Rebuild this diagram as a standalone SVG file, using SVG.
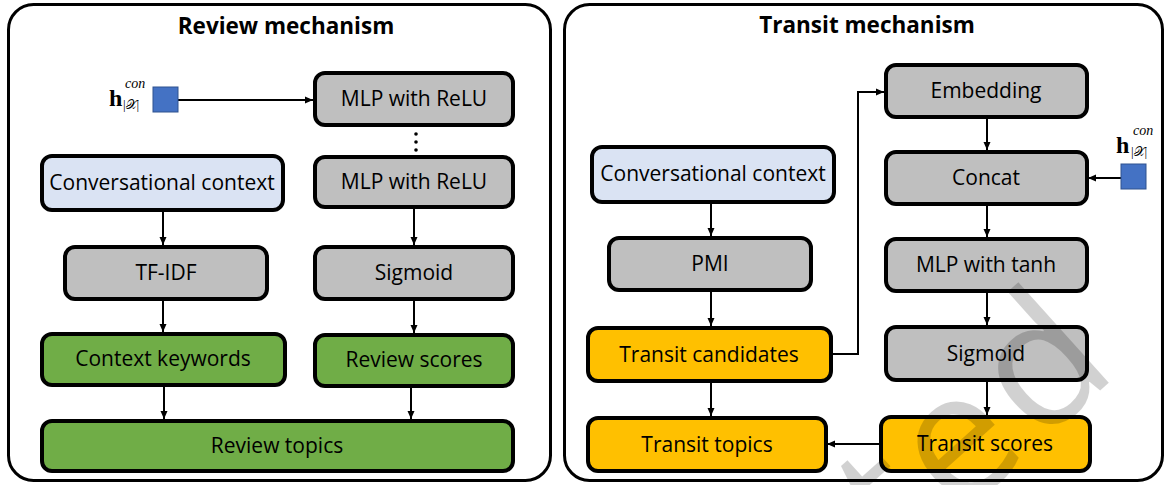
<svg xmlns="http://www.w3.org/2000/svg" width="1167" height="485" viewBox="0 0 1167 485">
<defs>
<style>
.panel{fill:#fff;stroke:#000;stroke-width:3}
.box{stroke:#000;stroke-width:4}
.gray{fill:#BFBFBF}
.blue{fill:#DAE3F3}
.green{fill:#70AD47}
.orange{fill:#FFC000}
.lbl{font-family:"Open Sans","Liberation Sans",sans-serif;font-size:21px;fill:#000;text-anchor:middle}
.title{font-family:"Open Sans","Liberation Sans",sans-serif;font-size:22.5px;font-weight:bold;fill:#000;text-anchor:middle}
.vec{fill:#4472C4;stroke:#2F528F;stroke-width:1}
.math{font-family:"Liberation Serif","DejaVu Serif",serif;fill:#000}
.conn{fill:none;stroke:#000;stroke-width:2}
</style>
<marker id="arr" markerUnits="userSpaceOnUse" markerWidth="9" markerHeight="8" refX="8" refY="4" orient="auto">
<path d="M0,0.5 L8,4 L0,7.5 z" fill="#000"/>
</marker>
</defs>
<rect width="1167" height="485" fill="#fff"/>
<g id="panel-review">
<rect class="panel" x="8.5" y="4.5" width="542" height="476" rx="25"/>
<text class="title" x="286" y="34">Review mechanism</text>
</g>
<g id="panel-transit">
<rect class="panel" x="564.5" y="4.5" width="598" height="476" rx="25"/>
<text class="title" x="867" y="33">Transit mechanism</text>
</g>
<g id="connectors">
<line class="conn" x1="178" y1="100" x2="313" y2="100" marker-end="url(#arr)"/>
<circle cx="416" cy="134" r="1.8" fill="#000"/>
<circle cx="416" cy="142" r="1.8" fill="#000"/>
<circle cx="416" cy="150" r="1.8" fill="#000"/>
<line class="conn" x1="163" y1="210" x2="163" y2="245" marker-end="url(#arr)"/>
<line class="conn" x1="163" y1="299" x2="163" y2="332" marker-end="url(#arr)"/>
<line class="conn" x1="414" y1="207" x2="414" y2="245" marker-end="url(#arr)"/>
<line class="conn" x1="414" y1="299" x2="414" y2="333" marker-end="url(#arr)"/>
<line class="conn" x1="164" y1="385" x2="164" y2="419" marker-end="url(#arr)"/>
<line class="conn" x1="411" y1="386" x2="411" y2="419" marker-end="url(#arr)"/>
<line class="conn" x1="711" y1="202" x2="711" y2="236" marker-end="url(#arr)"/>
<line class="conn" x1="711" y1="290" x2="711" y2="326" marker-end="url(#arr)"/>
<line class="conn" x1="711" y1="381" x2="711" y2="416" marker-end="url(#arr)"/>
<polyline class="conn" points="831,354 858,354 858,92 884,92" marker-end="url(#arr)"/>
<line class="conn" x1="987" y1="117" x2="987" y2="150" marker-end="url(#arr)"/>
<line class="conn" x1="1121" y1="178" x2="1088" y2="178" marker-end="url(#arr)"/>
<line class="conn" x1="987" y1="204" x2="987" y2="237" marker-end="url(#arr)"/>
<line class="conn" x1="987" y1="291" x2="987" y2="325" marker-end="url(#arr)"/>
<line class="conn" x1="987" y1="380" x2="987" y2="415" marker-end="url(#arr)"/>
<line class="conn" x1="881" y1="444" x2="827" y2="444" marker-end="url(#arr)"/>
</g>
<g id="h-left">
<rect class="vec" x="153" y="87" width="25" height="25"/>
<text class="math" x="109" y="106" font-weight="bold" font-size="24">h</text>
<text class="math" x="125" y="88" font-style="italic" font-size="14">con</text>
<text class="math" x="123" y="109" font-size="13">|𝒳|</text>
</g>
<g id="h-right">
<rect class="vec" x="1121" y="164" width="25" height="25"/>
<text class="math" x="1116" y="153" font-weight="bold" font-size="24">h</text>
<text class="math" x="1133" y="135" font-style="italic" font-size="14">con</text>
<text class="math" x="1131" y="156" font-size="13">|𝒳|</text>
</g>
<g id="mlp-relu-1"><rect class="box gray" x="315" y="73" width="198" height="52" rx="10"/><text class="lbl" x="414" y="106">MLP with ReLU</text></g>
<g id="mlp-relu-2"><rect class="box gray" x="315" y="157" width="198" height="50" rx="10"/><text class="lbl" x="414" y="189">MLP with ReLU</text></g>
<g id="conv-context-left"><rect class="box blue" x="42" y="156" width="241" height="54" rx="10"/><text class="lbl" x="162" y="190">Conversational context</text></g>
<g id="tfidf"><rect class="box gray" x="65" y="247" width="202" height="52" rx="10"/><text class="lbl" x="166" y="280">TF-IDF</text></g>
<g id="sigmoid-left"><rect class="box gray" x="315" y="247" width="198" height="52" rx="10"/><text class="lbl" x="414" y="280">Sigmoid</text></g>
<g id="context-keywords"><rect class="box green" x="42" y="334" width="243" height="51" rx="10"/><text class="lbl" x="163" y="366">Context keywords</text></g>
<g id="review-scores"><rect class="box green" x="315" y="335" width="198" height="51" rx="10"/><text class="lbl" x="414" y="367">Review scores</text></g>
<g id="review-topics"><rect class="box green" x="42" y="421" width="471" height="50" rx="10"/><text class="lbl" x="277" y="453">Review topics</text></g>
<g id="embedding"><rect class="box gray" x="886" y="65" width="201" height="52" rx="10"/><text class="lbl" x="986" y="98">Embedding</text></g>
<g id="concat"><rect class="box gray" x="886" y="152" width="201" height="52" rx="10"/><text class="lbl" x="986" y="185">Concat</text></g>
<g id="mlp-tanh"><rect class="box gray" x="886" y="239" width="201" height="52" rx="10"/><text class="lbl" x="986" y="272">MLP with tanh</text></g>
<g id="sigmoid-right"><rect class="box gray" x="886" y="327" width="201" height="53" rx="10"/><text class="lbl" x="986" y="361">Sigmoid</text></g>
<g id="transit-scores"><rect class="box orange" x="881" y="417" width="209" height="54" rx="10"/><text class="lbl" x="985" y="451">Transit scores</text></g>
<g id="conv-context-right"><rect class="box blue" x="592" y="147" width="242" height="55" rx="10"/><text class="lbl" x="713" y="181">Conversational context</text></g>
<g id="pmi"><rect class="box gray" x="609" y="238" width="202" height="52" rx="10"/><text class="lbl" x="710" y="271">PMI</text></g>
<g id="transit-candidates"><rect class="box orange" x="588" y="328" width="243" height="53" rx="10"/><text class="lbl" x="709" y="362">Transit candidates</text></g>
<g id="transit-topics"><rect class="box orange" x="588" y="418" width="238" height="53" rx="10"/><text class="lbl" x="707" y="452">Transit topics</text></g>
<text id="watermark" transform="translate(903,568) rotate(-42)" font-family="Open Sans, sans-serif" font-size="178" letter-spacing="10" fill="#000" fill-opacity="0.18">ted</text>
</svg>
